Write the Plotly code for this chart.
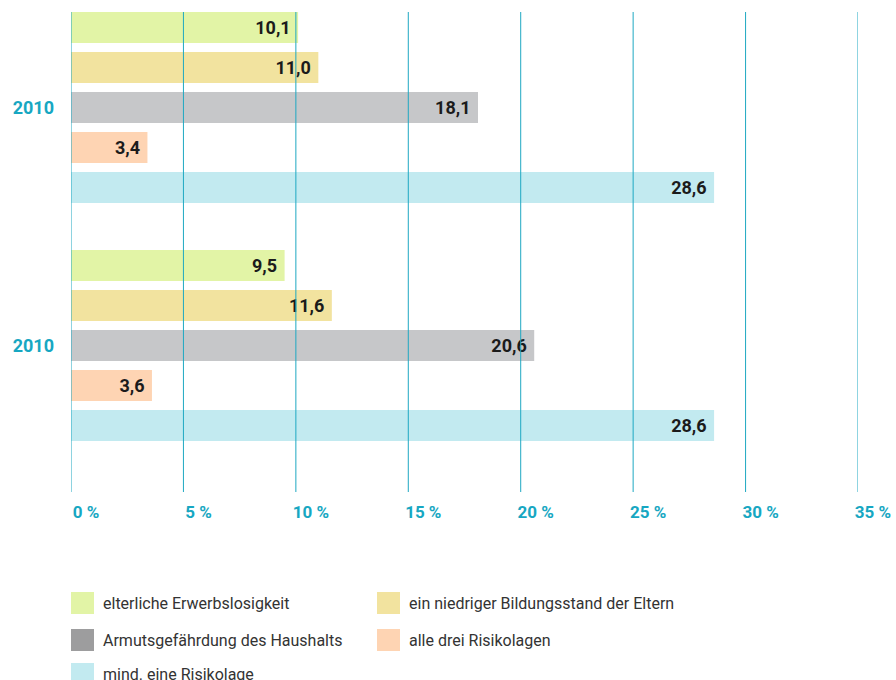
import plotly.graph_objects as go

# ---- data ----
group_labels = ["2010", "2010"]
group_pos = [0, 1]
series_names = [
    "elterliche Erwerbslosigkeit",
    "ein niedriger Bildungsstand der Eltern",
    "Armutsgefährdung des Haushalts",
    "alle drei Risikolagen",
    "mind. eine Risikolage",
]
values = [
    [10.1, 9.5],
    [11.0, 11.6],
    [18.1, 20.6],
    [3.4, 3.6],
    [28.6, 28.6],
]
x_ticks = [0, 5, 10, 15, 20, 25, 30, 35]
x_tick_labels = ["0 %", "5 %", "10 %", "15 %", "20 %", "25 %", "30 %", "35 %"]

# ---- styles ----
bar_colors = ["#e2f4a6", "#f2e39f", "#c6c7c9", "#fed4b3", "#c2eaf0"]
legend_colors = ["#e2f4a6", "#f2e39f", "#9d9d9e", "#fed4b3", "#c2eaf0"]
teal = "#17a7c2"
grid_col = "#1ea8c2"

W, H = 896, 680
ML, MR, MT, MB = 71, 38, 12, 188
PW = W - ML - MR
PH = H - MT - MB


def px_x(px):
    return (px - ML) / PW


def px_y(py):
    return (H - MB - py) / PH


fig = go.Figure()
for name, vals, col in zip(series_names, values, bar_colors):
    fig.add_trace(go.Bar(
        y=group_pos, x=vals, name=name, orientation="h",
        marker=dict(color=col, line=dict(width=0)),
        texttemplate="%{x:.1f}\u00a0",
        textposition="inside", insidetextanchor="end",
        textfont=dict(family="Roboto", size=18, color="#1b1b1b", weight="bold"),
        constraintext="none",
        showlegend=False,
    ))

# gridlines above the bars
shapes = []
for t in x_ticks:
    shapes.append(dict(type="line", xref="x", yref="paper", x0=t, x1=t, y0=0, y1=1,
                       line=dict(color=grid_col, width=1), layer="above"))

# manual legend
annotations = []
legend_slots = [(71, 592), (377, 592), (71, 629), (377, 629), (71, 663)]
for name, col, (lx, ly) in zip(series_names, legend_colors, legend_slots):
    shapes.append(dict(type="rect", xref="paper", yref="paper",
                       x0=px_x(lx), x1=px_x(lx + 23), y0=px_y(ly + 22), y1=px_y(ly),
                       fillcolor=col, line=dict(width=0), layer="above"))
    annotations.append(dict(xref="paper", yref="paper", x=px_x(lx + 30), y=px_y(ly + 11),
                            text=name, showarrow=False, xanchor="left", yanchor="middle",
                            font=dict(family="Roboto", size=16, color="#333333")))

fig.update_layout(
    width=W, height=H,
    margin=dict(l=ML, r=MR, t=MT, b=MB),
    barmode="group", bargap=0.16, bargroupgap=0.225,
    separators=",.",
    plot_bgcolor="white", paper_bgcolor="white",
    showlegend=False,
    shapes=shapes, annotations=annotations,
    xaxis=dict(range=[0, 35], tickvals=x_ticks, ticktext=x_tick_labels,
               showgrid=False, zeroline=False, showline=False, automargin=False,
               ticks="", ticklabelshift=15, ticklabelstandoff=8,
               tickfont=dict(family="Roboto", size=17, color=teal, weight="bold")),
    yaxis=dict(range=[1.6155, -0.4013], tickvals=group_pos, ticktext=group_labels,
               showgrid=False, zeroline=False, showline=False, automargin=False,
               ticks="", ticklabelstandoff=16,
               tickfont=dict(family="Roboto", size=18, color=teal, weight="bold")),
)

fig.write_html("out.html", config={"displayModeBar": False},
               post_script="document.body.style.margin='0';")
